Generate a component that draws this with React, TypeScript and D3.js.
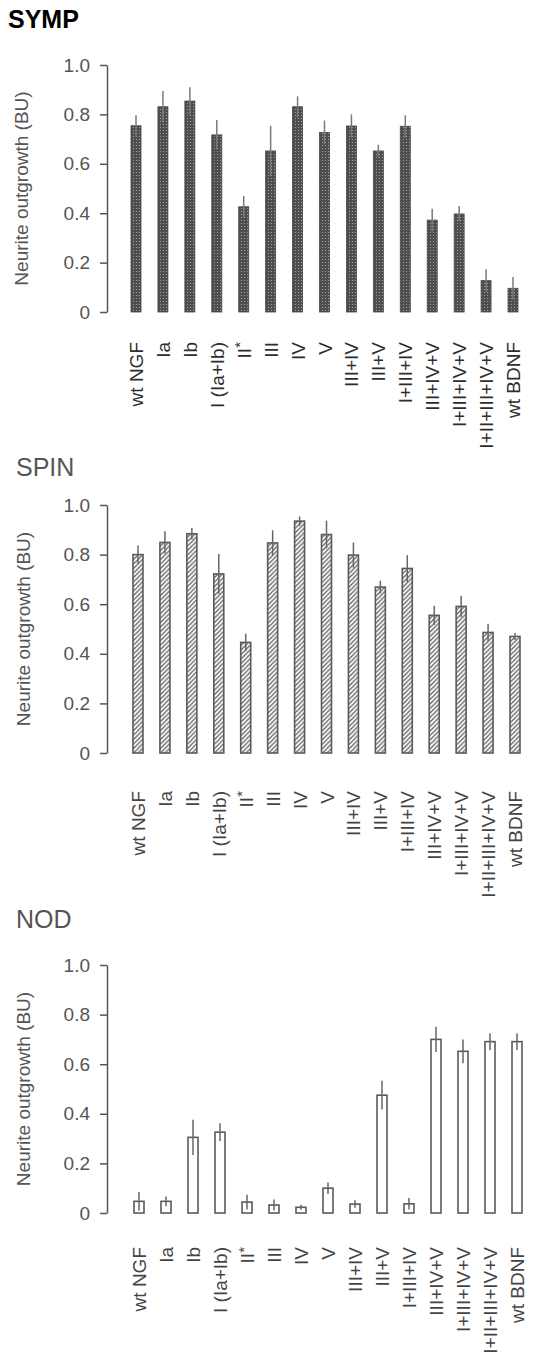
import React, { useRef, useEffect } from 'react';
import * as d3 from 'd3';

// categories (trunk mutants) shared by the three panels
const categories = [
  'wt NGF', 'Ia', 'Ib', 'I (Ia+Ib)', 'II*', 'III', 'IV', 'V', 'III+IV', 'III+V',
  'I+III+IV', 'III+IV+V', 'I+III+IV+V', 'I+II+III+IV+V', 'wt BDNF',
];

// neurite outgrowth (BU), mean and error
const sympMean = [0.754, 0.831, 0.854, 0.717, 0.426, 0.652, 0.831, 0.727, 0.753, 0.652, 0.752, 0.372, 0.397, 0.127, 0.096];
const sympErr = [0.043, 0.064, 0.056, 0.060, 0.044, 0.102, 0.042, 0.048, 0.047, 0.025, 0.045, 0.046, 0.032, 0.046, 0.046];

const spinMean = [0.800, 0.849, 0.884, 0.722, 0.446, 0.847, 0.935, 0.881, 0.798, 0.669, 0.744, 0.555, 0.591, 0.486, 0.470];
const spinErr = [0.037, 0.045, 0.023, 0.080, 0.035, 0.051, 0.019, 0.056, 0.051, 0.026, 0.054, 0.039, 0.043, 0.035, 0.014];

const nodMean = [0.047, 0.047, 0.305, 0.326, 0.044, 0.032, 0.023, 0.100, 0.036, 0.475, 0.037, 0.700, 0.652, 0.691, 0.691];
const nodErr = [0.038, 0.020, 0.071, 0.036, 0.030, 0.022, 0.010, 0.023, 0.015, 0.058, 0.023, 0.051, 0.048, 0.034, 0.034];

const yTicks = [0, 0.2, 0.4, 0.6, 0.8, 1.0];
const yLabel = 'Neurite outgrowth (BU)';

const FONT = '"Liberation Sans", Arial, Helvetica, sans-serif';

type Panel = {
  title: string;
  mean: number[];
  err: number[];
  kind: 'dots' | 'hatch' | 'open';
  top: number;
  zero: number;
  x0: number;
  x1: number;
  titleX: number;
  titleY: number;
  bold: boolean;
  labelY: number;
  labelColor: string;
};

const panels: Panel[] = [
  { title: 'SYMP', mean: sympMean, err: sympErr, kind: 'dots', top: 65, zero: 312, x0: 136, x1: 513,
    titleX: 8, titleY: 28, bold: true, labelY: 342, labelColor: '#2e2e2e' },
  { title: 'SPIN', mean: spinMean, err: spinErr, kind: 'hatch', top: 505, zero: 753, x0: 138, x1: 515,
    titleX: 16, titleY: 476, bold: false, labelY: 791, labelColor: '#444' },
  { title: 'NOD', mean: nodMean, err: nodErr, kind: 'open', top: 965, zero: 1213, x0: 139, x1: 517,
    titleX: 16, titleY: 928, bold: false, labelY: 1247, labelColor: '#444' },
];

const plot = (svgRef: React.RefObject<SVGSVGElement | null>) => {
  const svgEl = d3.select(svgRef.current);
  svgEl.selectAll('*').remove();

  svgEl.append('rect').attr('width', 546).attr('height', 1356).attr('fill', '#fff');

  // bar fills
  const defs = svgEl.append('defs');
  const dots = defs.append('pattern')
    .attr('id', 'dots').attr('patternUnits', 'userSpaceOnUse')
    .attr('width', 3).attr('height', 3);
  dots.append('rect').attr('width', 3).attr('height', 3).attr('fill', '#4e4e4e');
  dots.append('rect').attr('x', 1).attr('y', 1).attr('width', 1).attr('height', 1).attr('fill', '#a0a0a0');

  const hatch = defs.append('pattern')
    .attr('id', 'hatch').attr('patternUnits', 'userSpaceOnUse')
    .attr('width', 4.5).attr('height', 4.5);
  hatch.append('rect').attr('width', 4.5).attr('height', 4.5).attr('fill', '#fff');
  hatch.append('path')
    .attr('d', 'M-1,1 L1,-1 M0,4.5 L4.5,0 M3.5,5.5 L5.5,3.5')
    .attr('stroke', '#666').attr('stroke-width', 1.4);

  const svg = svgEl.append('g').style('font-family', FONT);

  panels.forEach(p => {
    const x = d3.scalePoint<string>().domain(categories).range([p.x0, p.x1]);
    const y = d3.scaleLinear().domain([0, 1]).range([p.zero, p.top]);
    const barW = 10;
    const g = svg.append('g');

    // title
    g.append('text')
      .attr('x', p.titleX).attr('y', p.titleY)
      .attr('font-size', 25)
      .attr('font-weight', p.bold ? 'bold' : 'normal')
      .attr('fill', p.bold ? '#000' : '#555')
      .text(p.title);

    // y axis
    const axis = d3.axisLeft(y)
      .tickValues(yTicks)
      .tickSize(7)
      .tickSizeOuter(0)
      .tickPadding(10)
      .tickFormat(d => (+d === 0 ? '0' : d3.format('.1f')(+d)));

    const ax = g.append('g')
      .attr('transform', `translate(107,0)`)
      .call(axis);
    ax.select('.domain').attr('stroke', '#555').attr('stroke-width', 1.5);
    ax.selectAll('.tick line').attr('stroke', '#555').attr('stroke-width', 1.5);
    ax.selectAll('.tick text')
      .attr('fill', '#555')
      .style('font-size', '19px')
      .style('font-family', FONT);

    // y label
    g.append('text')
      .attr('transform', `translate(${p.bold ? 28 : 30},${(p.zero + p.top) / 2}) rotate(-90)`)
      .attr('text-anchor', 'middle')
      .attr('font-size', 19)
      .attr('fill', '#555')
      .text(yLabel);

    // bars
    const data = categories.map((c, i) => ({ c, v: p.mean[i], e: p.err[i] }));

    g.selectAll('rect.bar')
      .data(data)
      .enter().append('rect')
      .attr('class', 'bar')
      .attr('x', d => (x(d.c) as number) - barW / 2)
      .attr('y', d => y(d.v))
      .attr('width', barW)
      .attr('height', d => y(0) - y(d.v))
      .attr('fill', p.kind === 'dots' ? 'url(#dots)' : p.kind === 'hatch' ? 'url(#hatch)' : '#fff')
      .attr('stroke', p.kind === 'dots' ? '#454545' : '#5a5a5a')
      .attr('stroke-width', p.kind === 'dots' ? 0.8 : 1.6);

    // error bars
    g.selectAll('line.err')
      .data(data)
      .enter().append('line')
      .attr('class', 'err')
      .attr('x1', d => x(d.c) as number)
      .attr('x2', d => x(d.c) as number)
      .attr('y1', d => y(d.v + d.e))
      .attr('y2', d => y(Math.max(0, d.v - d.e)))
      .attr('stroke', p.kind === 'dots' ? '#7a7a7a' : '#666')
      .attr('stroke-width', 1.5);

    // category labels
    const lab = g.selectAll('g.lab')
      .data(categories)
      .enter().append('g')
      .attr('class', 'lab')
      .attr('transform', c => `translate(${(x(c) as number) + 7},${p.labelY}) rotate(-90)`)
      .append('text')
      .attr('text-anchor', 'end')
      .attr('font-size', 19)
      .attr('fill', p.labelColor);

    lab.each(function (c) {
      const t = d3.select(this);
      if (c.endsWith('*')) {
        t.append('tspan').text(c.slice(0, -1));
        t.append('tspan').attr('dy', '-0.35em').attr('font-size', 15).text('*');
      } else {
        t.text(c);
      }
    });
  });
};

export default function App() {
  const svgRef = useRef<SVGSVGElement>(null);

  useEffect(() => {
    plot(svgRef);
  }, []);

  return (
    <svg
      ref={svgRef}
      width={546}
      height={1356}
      style={{ position: 'absolute', left: 0, top: 0 }}
    />
  );
}
